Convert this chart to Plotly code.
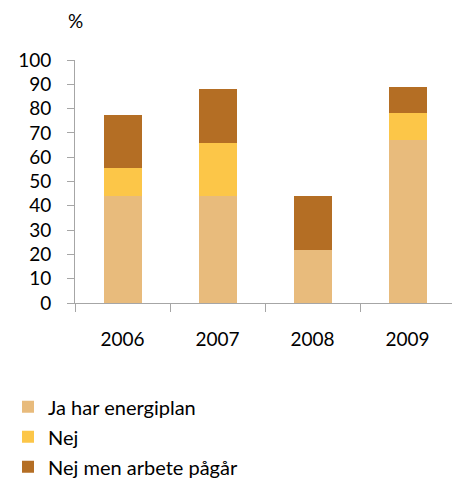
import plotly.graph_objects as go

years = ["2006", "2007", "2008", "2009"]
ja = [44, 44, 22, 67]
nej = [11.5, 22, 0, 11]
pagar = [22, 22, 22, 11]
names = ["Ja har energiplan", "Nej", "Nej men arbete pågår"]
colors = ["#E8BB7C", "#FCC648", "#B46E24"]

FONT = "Lato, Open Sans, sans-serif"
# page body has an 8px margin, so the figure is drawn 8px smaller and shifted
W, H = 452, 477

fig = go.Figure()
for i, (vals, nm, c) in enumerate(zip([ja, nej, pagar], names, colors)):
    fig.add_trace(go.Bar(x=years, y=vals, name=nm, marker_color=c,
                         marker_line_width=0, legendgroup=f"g{i}"))

fig.update_layout(
    barmode="stack", bargap=0.6,
    width=W, height=H,
    margin=dict(l=67, r=5, t=52, b=182, autoexpand=False),
    plot_bgcolor="white", paper_bgcolor="white",
    font=dict(family=FONT, size=19, color="#000000"),
    showlegend=True,
    legend=dict(xref="container", yref="container", x=0.0, y=0.205,
                xanchor="left", yanchor="top",
                traceorder="grouped", tracegroupgap=1,
                font=dict(family=FONT, size=20, color="#000000"),
                itemwidth=30),
    annotations=[dict(text="%", x=0, y=(303 - 20) / 243, xref="paper",
                      yref="paper", xanchor="center", yanchor="middle",
                      showarrow=False, font=dict(family=FONT, size=19))],
)
fig.update_yaxes(range=[0, 100], dtick=10, showgrid=False, showline=True,
                 linecolor="#A6A6A6", linewidth=1, ticks="outside", ticklen=7,
                 tickcolor="#A6A6A6", zeroline=False, automargin=False,
                 ticklabelstandoff=12)
fig.update_xaxes(showline=True, linecolor="#A6A6A6", linewidth=1, ticks="outside",
                 tickson="boundaries", ticklen=8, tickcolor="#A6A6A6", showgrid=False,
                 automargin=False, ticklabelstandoff=19)
fig.write_html("out.html")
